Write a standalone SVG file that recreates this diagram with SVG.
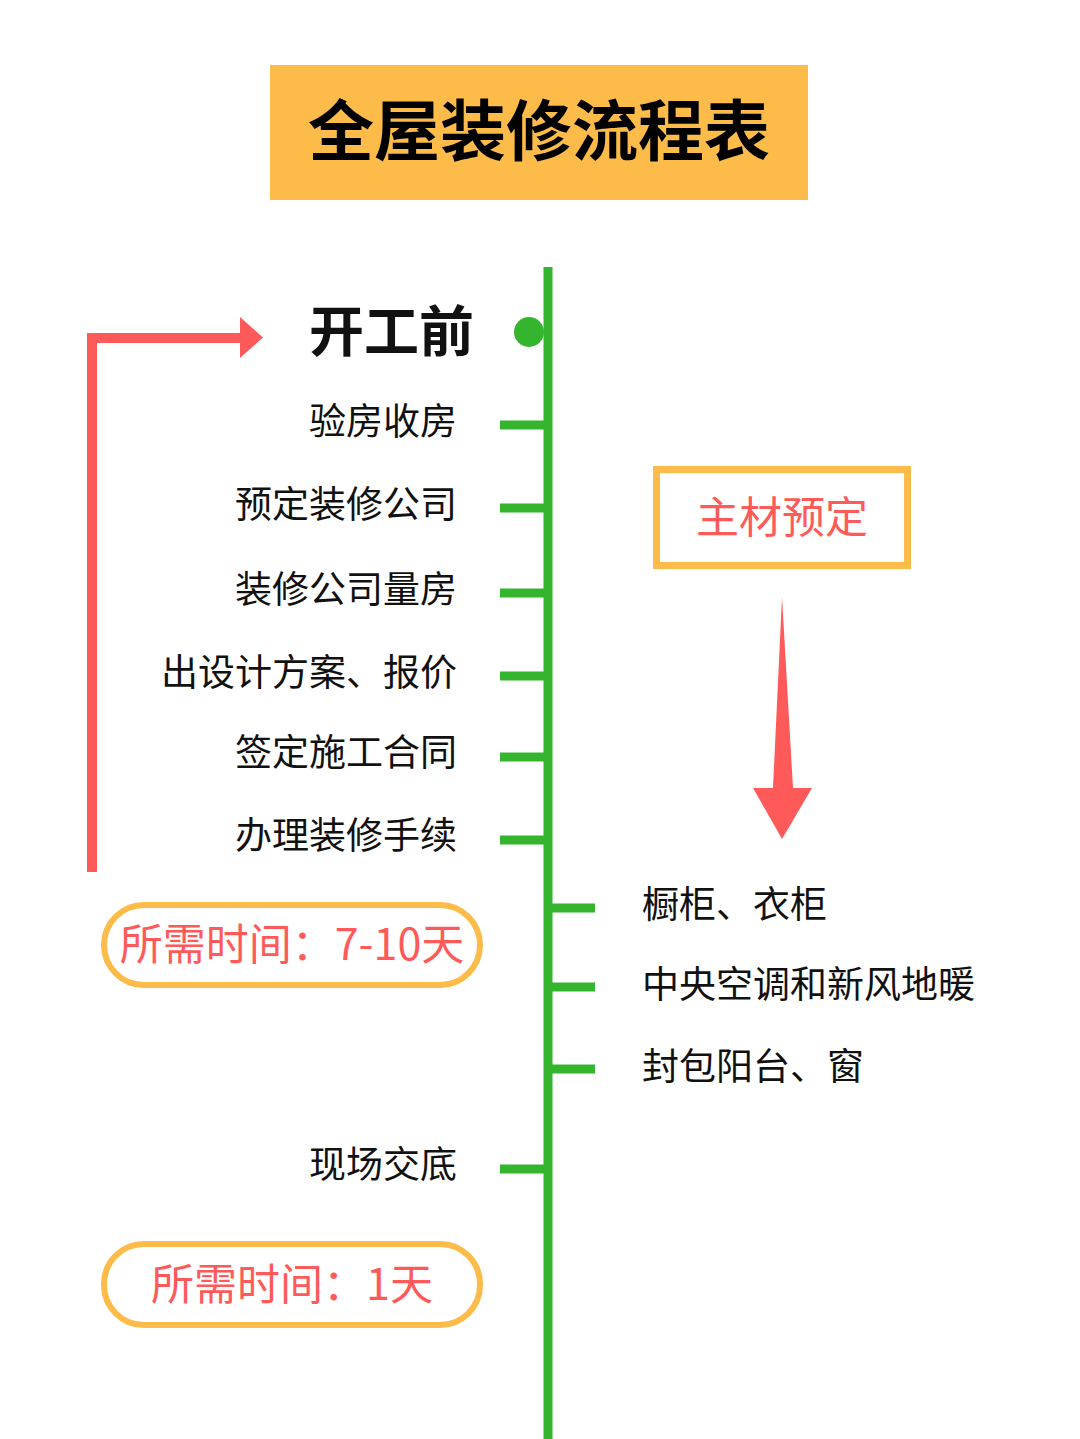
<svg xmlns="http://www.w3.org/2000/svg" width="1080" height="1439" viewBox="0 0 1080 1439">
<defs>
<style>
.t{font-family:"Noto Sans CJK SC","Noto Sans",sans-serif;fill:#111;font-size:37px}
.l{text-anchor:end}
.r{text-anchor:start}
.red{font-family:"Noto Sans CJK SC","Noto Sans",sans-serif;fill:#FF5A5A;font-size:43px;text-anchor:middle}
.tick{stroke:#35B52E;stroke-width:9;fill:none}
.pill{fill:#fff;stroke:#FDBB4A;stroke-width:6}
</style>
</defs>
<rect width="1080" height="1439" fill="#fff"/>
<g id="title">
<rect x="270" y="65" width="538" height="135" fill="#FDBB4A"/>
<text x="539" y="155" style="font-family:'Noto Sans CJK SC',sans-serif;font-weight:700;font-size:66px;fill:#000;text-anchor:middle">全屋装修流程表</text>
</g>
<g id="connectors">
<line class="tick" x1="548" y1="267" x2="548" y2="1439"/>
<line class="tick" x1="500" y1="425" x2="548" y2="425"/>
<line class="tick" x1="500" y1="508" x2="548" y2="508"/>
<line class="tick" x1="500" y1="593" x2="548" y2="593"/>
<line class="tick" x1="500" y1="676" x2="548" y2="676"/>
<line class="tick" x1="500" y1="757" x2="548" y2="757"/>
<line class="tick" x1="500" y1="840" x2="548" y2="840"/>
<line class="tick" x1="500" y1="1169" x2="548" y2="1169"/>
<line class="tick" x1="548" y1="908" x2="595" y2="908"/>
<line class="tick" x1="548" y1="987" x2="595" y2="987"/>
<line class="tick" x1="548" y1="1069" x2="595" y2="1069"/>
<circle cx="529" cy="332" r="15" fill="#35B52E"/>
<path d="M92 872 V338 H242" fill="none" stroke="#FF5A5A" stroke-width="10"/>
<polygon points="240,317 263,337.5 240,358" fill="#FF5A5A"/>
<polygon points="782,597 793,788 812,788 782,839 753,788 773,788" fill="#FF5A5A"/>
</g>
<g id="start">
<text x="474" y="351" style="font-family:'Noto Sans CJK SC',sans-serif;font-weight:700;font-size:55px;fill:#111;text-anchor:end">开工前</text>
</g>
<g id="n1"><text class="t l" x="457" y="435">验房收房</text></g>
<g id="n2"><text class="t l" x="457" y="518">预定装修公司</text></g>
<g id="n3"><text class="t l" x="457" y="603">装修公司量房</text></g>
<g id="n4"><text class="t l" x="457" y="686">出设计方案、报价</text></g>
<g id="n5"><text class="t l" x="457" y="766">签定施工合同</text></g>
<g id="n6"><text class="t l" x="457" y="849">办理装修手续</text></g>
<g id="n7"><text class="t l" x="457" y="1178">现场交底</text></g>
<g id="r1"><text class="t r" x="642" y="918">橱柜、衣柜</text></g>
<g id="r2"><text class="t r" x="642" y="998">中央空调和新风地暖</text></g>
<g id="r3"><text class="t r" x="642" y="1080">封包阳台、窗</text></g>
<g id="material">
<rect x="656.5" y="469.5" width="251" height="96" fill="#fff" stroke="#FDBB4A" stroke-width="7"/>
<text class="red" x="782" y="533">主材预定</text>
</g>
<g id="time1">
<rect class="pill" x="104" y="905" width="376" height="80" rx="40"/>
<text class="red" x="292" y="960">所需时间：7-10天</text>
</g>
<g id="time2">
<rect class="pill" x="104" y="1244" width="376" height="81" rx="40"/>
<text class="red" x="292" y="1300">所需时间：1天</text>
</g>
</svg>
